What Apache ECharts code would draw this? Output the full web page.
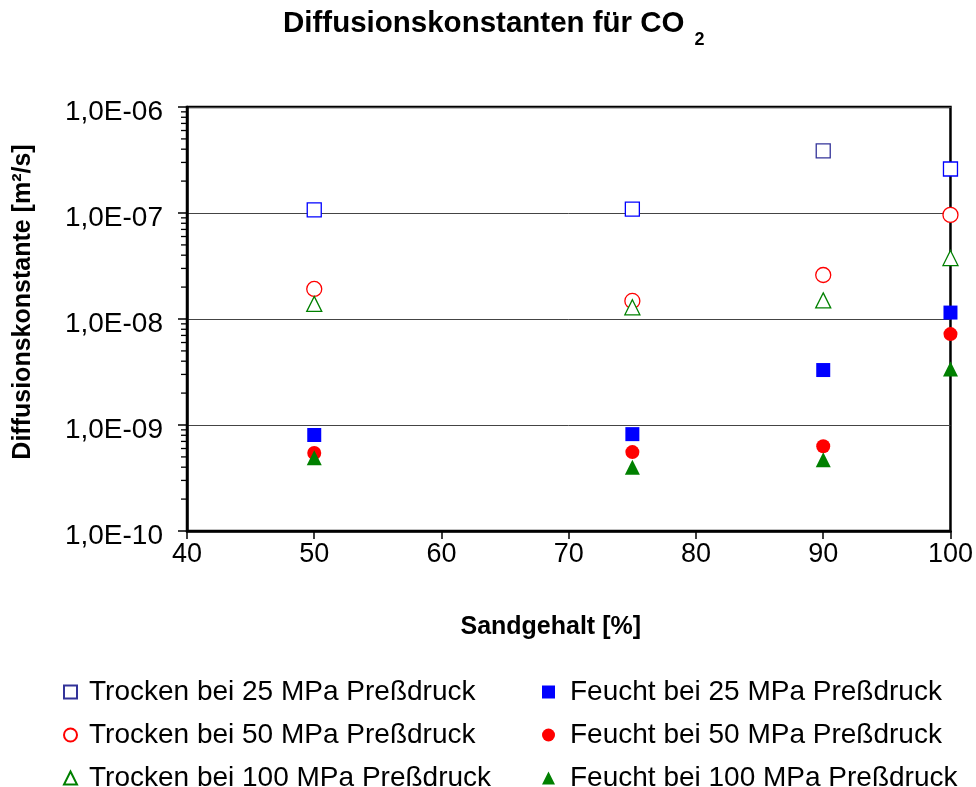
<!DOCTYPE html>
<html><head><meta charset="utf-8">
<script src="https://cdn.jsdelivr.net/npm/echarts@6/dist/echarts.min.js"></script>
<style>html,body{margin:0;padding:0;background:#fff}#c{width:976px;height:787px}</style>
</head><body><div id="c"></div>
<script>
const xValues = [50, 75, 90, 100];
const trocken25 = [1.07e-7, 1.09e-7, 3.85e-7, 2.6e-7];
const trocken50 = [1.92e-8, 1.48e-8, 2.6e-8, 9.6e-8];
const trocken100 = [1.39e-8, 1.29e-8, 1.5e-8, 3.76e-8];
const feucht25 = [8.05e-10, 8.2e-10, 3.3e-9, 1.15e-8];
const feucht50 = [5.45e-10, 5.55e-10, 6.3e-10, 7.2e-9];
const feucht100 = [4.9e-10, 4.0e-10, 4.7e-10, 3.37e-9];
const seriesNames = ['Trocken bei 25 MPa Preßdruck','Trocken bei 50 MPa Preßdruck','Trocken bei 100 MPa Preßdruck',
  'Feucht bei 25 MPa Preßdruck','Feucht bei 50 MPa Preßdruck','Feucht bei 100 MPa Preßdruck'];
const yTickLabels = ['1,0E-10','1,0E-09','1,0E-08','1,0E-07','1,0E-06'];
const xTickLabels = ['40','50','60','70','80','90','100'];

const FONT = '"Liberation Sans", Arial, Helvetica, sans-serif';
const pairs = arr => arr.map((v,i)=>[xValues[i], v]);

const minorTicks = [];
for (let e = -10; e < -6; e++) for (let m = 2; m <= 9; m++) minorTicks.push([40, m * Math.pow(10, e)]);

function hollow(name, data, symbol, color, size) {
  return {name, type:'scatter', data, symbol, symbolSize:size,
    itemStyle:{color:'#fff', borderColor:color, borderWidth:1.3, opacity:1}, z:5};
}
function filled(name, data, symbol, color, size) {
  return {name, type:'scatter', data, symbol, symbolSize:size,
    itemStyle:{color:color, borderWidth:0, opacity:1}, z:5};
}
const t25 = pairs(trocken25).map((p,i)=> i===2 ? {value:p, itemStyle:{borderColor:'#333399'}} : p);

const legendPos = [[63,678,7],[63,721,7],[63,764,7],[542,678,10],[542,721,10],[542,764,10]];
const legends = seriesNames.map((n,i)=>({
  orient:'horizontal', left:legendPos[i][0], top:legendPos[i][1], padding:0,
  itemWidth:13, itemHeight:13,
  textStyle:{fontSize:28, color:'#000', fontFamily:FONT, padding:[0,0,0,legendPos[i][2]]},
  data:[i===0 ? {name:n, itemStyle:{borderColor:'#333399'}} : n]
}));

const chart = echarts.init(document.getElementById('c'), null, {renderer:'canvas'});
chart.setOption({
  animation:false,
  backgroundColor:'#fff',
  textStyle:{fontFamily:FONT},
  title:{
    text:'{a|Diffusionskonstanten für CO}{s|2}',
    left:283, top:-2, padding:0,
    textStyle:{rich:{
      a:{fontFamily:FONT, fontWeight:'bold', fontSize:29.5, color:'#000', lineHeight:52},
      s:{fontFamily:FONT, fontWeight:'bold', fontSize:18, color:'#000', padding:[32,0,0,10]}
    }}
  },
  grid:{left:187, right:24, top:107, bottom:256, show:true, borderColor:'#000', borderWidth:2.5, backgroundColor:'transparent'},
  xAxis:{
    type:'value', min:40, max:100, interval:10,
    axisLine:{show:true, onZero:false, lineStyle:{color:'#000', width:2.5}},
    axisTick:{show:true, inside:false, length:8, lineStyle:{color:'#000', width:1.5}},
    axisLabel:{fontSize:27, color:'#000', margin:10, fontFamily:FONT,
      formatter:(v)=> xTickLabels[Math.round((v-40)/10)]},
    splitLine:{show:false},
    name:'Sandgehalt [%]', nameLocation:'middle', nameGap:84,
    nameTextStyle:{fontSize:25, fontWeight:'bold', color:'#000', fontFamily:FONT, padding:[0,36,0,0]}
  },
  yAxis:{
    type:'log', logBase:10, min:1e-10, max:1e-6,
    axisLine:{show:true, onZero:false, lineStyle:{color:'#000', width:2.5}},
    axisTick:{show:true, inside:false, length:9, lineStyle:{color:'#000', width:1.5}},
    axisLabel:{fontSize:28, color:'#000', margin:24, fontFamily:FONT, verticalAlign:'top', lineHeight:10,
      formatter:(v)=>{const e=Math.round(Math.log10(v)); return yTickLabels[e+10];}},
    splitLine:{show:true, lineStyle:{color:'#444', width:1}},
    name:'Diffusionskonstante [m²/s]', nameLocation:'middle', nameGap:151, nameRotate:90,
    nameTextStyle:{fontSize:25, fontWeight:'bold', color:'#000', fontFamily:FONT, padding:[0,0,0,34]}
  },
  legend:legends,
  series:[
    hollow(seriesNames[0], t25, 'rect', '#0000ff', 14),
    hollow(seriesNames[1], pairs(trocken50), 'circle', '#ff0000', 15),
    hollow(seriesNames[2], pairs(trocken100), 'triangle', '#008000', 15),
    filled(seriesNames[3], pairs(feucht25), 'rect', '#0000ff', 14),
    filled(seriesNames[4], pairs(feucht50), 'circle', '#ff0000', 14),
    filled(seriesNames[5], pairs(feucht100), 'triangle', '#008000', 15),
    {type:'custom', name:'minor', silent:true, clip:false, data:minorTicks, z:3,
     renderItem:(params, api)=>{
       const p = api.coord([api.value(0), api.value(1)]);
       return {type:'line', shape:{x1:p[0]-6, y1:p[1], x2:p[0], y2:p[1]},
         style:{stroke:'#000', lineWidth:1.3}};
     }}
  ]
});
</script></body></html>
